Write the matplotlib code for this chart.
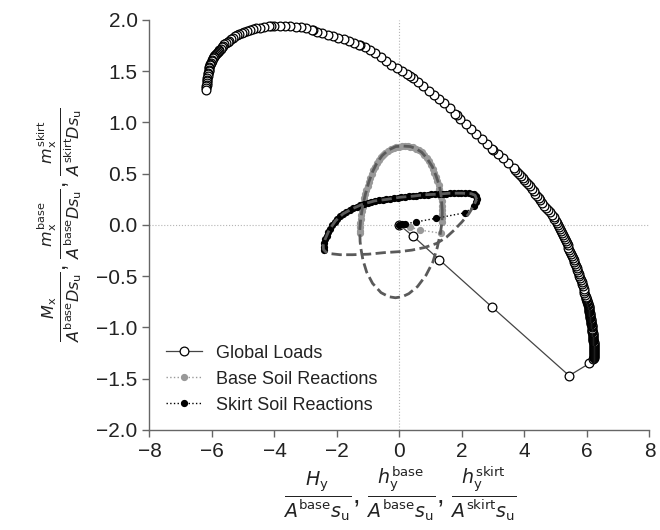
import matplotlib
matplotlib.use("Agg")
import matplotlib.pyplot as plt
from matplotlib.ticker import FuncFormatter

plt.rcParams['font.family'] = ['Liberation Sans', 'DejaVu Sans']
plt.rcParams['mathtext.fontset'] = 'dejavusans'

# === GLOBAL LOADS (normalised H_y, M_x per load step) ===
GLOBAL_RAMP_X = [0.00, 0.44, 1.28, 2.96, 5.43, 6.08]
GLOBAL_RAMP_Y = [0.00, -0.11, -0.34, -0.80, -1.47, -1.35]

GLOBAL_ARC_X = [
    # lower right, slow steps
    6.19, 6.21, 6.21, 6.22, 6.22, 6.23, 6.23, 6.23, 6.23, 6.23, 6.23,
    6.22, 6.22, 6.22, 6.22, 6.21, 6.21, 6.21, 6.20, 6.20, 6.20, 6.19,
    6.19, 6.19, 6.18, 6.18, 6.18, 6.17, 6.17, 6.17, 6.16,
    6.15, 6.15, 6.15, 6.14, 6.14, 6.13, 6.13, 6.12, 6.12, 6.11, 6.11,
    6.10, 6.10, 6.09, 6.09, 6.08, 6.08, 6.07, 6.07, 6.06, 6.06, 6.05,
    6.04, 6.03, 6.02, 6.01, 6.00, 5.99, 5.98, 5.97, 5.96,
    5.94, 5.92, 5.90, 5.89, 5.87, 5.85, 5.83, 5.81, 5.78, 5.76,
    5.74, 5.71, 5.69, 5.67, 5.64, 5.62, 5.60, 5.57, 5.54, 5.52,
    5.49, 5.46, 5.43, 5.40, 5.38, 5.35, 5.32, 5.29, 5.26, 5.23,
    5.20, 5.16, 5.13, 5.10, 5.06, 5.03, 5.00, 4.96, 4.93,
    4.87, 4.81, 4.75, 4.69, 4.63, 4.57, 4.51, 4.45, 4.40, 4.34, 4.29,
    4.23, 4.18, 4.12, 4.06, 4.00, 3.94, 3.88, 3.82, 3.76, 3.71, 3.65,
    # fast middle part
    3.48, 3.31, 3.14, 3.00, 2.97, 2.80, 2.63, 2.46, 2.29, 2.12, 1.95,
    1.83, 1.78, 1.61, 1.44, 1.27, 1.10, 0.93, 0.76, 0.59, 0.42, 0.34,
    0.25, 0.08,
    -0.09, -0.26, -0.43, -0.60, -0.77, -0.94, -1.11, -1.27, -1.28, -1.45,
    -1.62, -1.79, -1.96, -2.13, -2.30, -2.47, -2.64, -2.76, -2.81, -2.98,
    -3.15, -3.32, -3.49,
    # upper left, slowing down again
    -3.66, -3.83, -4.00, -4.10, -4.16, -4.32, -4.46, -4.58, -4.69, -4.79,
    -4.88, -4.97, -5.05, -5.13, -5.20, -5.27, -5.33, -5.39, -5.45, -5.50,
    -5.55, -5.60, -5.64, -5.68, -5.72, -5.76, -5.79, -5.82, -5.85, -5.88,
    -5.91, -5.93, -5.95, -5.97, -5.99, -6.01, -6.03, -6.05, -6.06, -6.08,
    -6.09, -6.10, -6.11, -6.12, -6.13, -6.14, -6.15, -6.16, -6.16, -6.17,
    -6.17, -6.18, -6.18, -6.18]
GLOBAL_ARC_Y = [
    -1.31, -1.30, -1.29, -1.28, -1.27, -1.26, -1.25, -1.24, -1.23, -1.22,
    -1.21, -1.20, -1.19, -1.18, -1.17, -1.16, -1.15, -1.14, -1.13, -1.12,
    -1.11, -1.10, -1.09, -1.08, -1.07, -1.06, -1.05, -1.04, -1.03, -1.02,
    -1.01,
    -1.00, -0.99, -0.98, -0.97, -0.96, -0.95, -0.94, -0.93, -0.92, -0.91,
    -0.90, -0.89, -0.88, -0.87, -0.86, -0.85, -0.84, -0.83, -0.82, -0.81,
    -0.80, -0.79, -0.78, -0.77, -0.76, -0.75, -0.74, -0.73, -0.72, -0.71,
    -0.70,
    -0.68, -0.66, -0.64, -0.62, -0.60, -0.58, -0.56, -0.54, -0.52, -0.50,
    -0.48, -0.46, -0.44, -0.42, -0.40, -0.38, -0.36, -0.34, -0.32, -0.30,
    -0.28, -0.26, -0.24, -0.22, -0.20, -0.18, -0.16, -0.14, -0.12, -0.10,
    -0.08, -0.06, -0.04, -0.02, 0.00, 0.02, 0.04, 0.06, 0.08,
    0.10, 0.125, 0.15, 0.17, 0.19, 0.215, 0.24, 0.26, 0.28, 0.305, 0.33,
    0.355, 0.38, 0.40, 0.42, 0.44, 0.46, 0.48, 0.50, 0.52, 0.54, 0.56,
    0.605, 0.65, 0.695, 0.73, 0.74, 0.79, 0.835, 0.885, 0.935, 0.985,
    1.035, 1.07, 1.085, 1.14, 1.19, 1.23, 1.27, 1.31, 1.355, 1.395, 1.435,
    1.45, 1.47, 1.50,
    1.53, 1.565, 1.60, 1.64, 1.675, 1.705, 1.735, 1.755, 1.757, 1.78,
    1.795, 1.81, 1.825, 1.84, 1.855, 1.87, 1.885, 1.90, 1.905, 1.92,
    1.93, 1.935, 1.94,
    1.945, 1.945, 1.94, 1.94, 1.937, 1.932, 1.926, 1.92, 1.91, 1.90,
    1.893, 1.885, 1.876, 1.866, 1.853, 1.84, 1.826, 1.812, 1.798, 1.788,
    1.776, 1.762, 1.748, 1.735, 1.72, 1.705, 1.695, 1.685, 1.675, 1.665,
    1.655, 1.645, 1.635, 1.625, 1.612, 1.60, 1.585, 1.57, 1.56, 1.54,
    1.53, 1.515, 1.50, 1.485, 1.47, 1.45, 1.435, 1.415, 1.40, 1.385,
    1.37, 1.355, 1.34, 1.32]

# === BASE SOIL REACTIONS ===
BASE_X = [0.00, 0.06, 0.34, 0.66, 1.32,
          1.36, 1.37, 1.37, 1.37, 1.36, 1.35, 1.33, 1.31, 1.28, 1.25, 1.21,
          1.17, 1.12, 1.07, 1.01, 0.94, 0.87, 0.79, 0.71, 0.62, 0.53, 0.44,
          0.35, 0.26,
          0.17, 0.08, -0.01, -0.10, -0.19, -0.28, -0.37, -0.45, -0.53, -0.60,
          -0.67, -0.73, -0.79, -0.84, -0.89, -0.94, -0.98, -1.02, -1.06,
          -1.09, -1.12, -1.15, -1.18, -1.20, -1.22, -1.24, -1.25, -1.26,
          -1.27, -1.27]
BASE_Y = [0.00, -0.005, -0.02, -0.05, -0.08,
          0.03, 0.07, 0.11, 0.15, 0.19, 0.23, 0.27, 0.31, 0.35, 0.39, 0.43,
          0.47, 0.51, 0.55, 0.59, 0.625, 0.655, 0.685, 0.71, 0.73, 0.745,
          0.757, 0.765, 0.77,
          0.77, 0.768, 0.763, 0.757, 0.75, 0.74, 0.725, 0.705, 0.685, 0.66,
          0.63, 0.60, 0.57, 0.54, 0.50, 0.46, 0.42, 0.38, 0.34, 0.30, 0.26,
          0.22, 0.18, 0.14, 0.10, 0.06, 0.02, -0.02, -0.06, -0.08]

# === SKIRT SOIL REACTIONS ===
SKIRT_X = [0.00, 0.08, 0.17, 0.53, 1.17, 2.11,
           2.40, 2.45, 2.47, 2.45, 2.40, 2.32, 2.22, 2.10, 1.98, 1.86, 1.74,
           1.62, 1.50, 1.38, 1.26, 1.14, 1.02, 0.90, 0.78, 0.66, 0.54, 0.42,
           0.30, 0.18, 0.06, -0.06, -0.18, -0.30, -0.42, -0.54, -0.66, -0.78,
           -0.90, -1.02, -1.14, -1.26, -1.37, -1.48, -1.59, -1.70, -1.80,
           -1.90, -1.99, -2.07, -2.15, -2.22, -2.28, -2.33, -2.38, -2.41,
           -2.43, -2.42]
SKIRT_Y = [0.00, 0.005, 0.01, 0.03, 0.065, 0.12,
           0.19, 0.22, 0.25, 0.28, 0.30, 0.305, 0.31, 0.31, 0.31, 0.31, 0.31,
           0.31, 0.305, 0.305, 0.30, 0.30, 0.30, 0.295, 0.295, 0.29, 0.285,
           0.28, 0.28, 0.275, 0.27, 0.265, 0.26, 0.255, 0.25, 0.245, 0.24,
           0.235, 0.225, 0.215, 0.205, 0.195, 0.18, 0.165, 0.15, 0.13, 0.11,
           0.085, 0.06, 0.03, 0.00, -0.035, -0.07, -0.105, -0.14, -0.175,
           -0.21, -0.24]

# === FAILURE ENVELOPES ===
BASE_ENV_X = [1.37, 1.34, 1.28, 1.17, 1.05, 0.88, 0.71, 0.53, 0.35, 0.12,
              -0.12, -0.36, -0.56, -0.73, -0.86, -0.98, -1.09, -1.18, -1.24,
              -1.27, -1.26, -1.24, -1.17, -1.05, -0.86, -0.59, -0.34, -0.13,
              0.09, 0.30, 0.58, 0.85, 1.07, 1.21, 1.31, 1.36, 1.37]
BASE_ENV_Y = [0.13, 0.27, 0.38, 0.48, 0.57, 0.65, 0.71, 0.745, 0.765, 0.77,
              0.765, 0.73, 0.675, 0.60, 0.52, 0.42, 0.30, 0.18, 0.06,
              -0.05, -0.16, -0.22, -0.34, -0.46, -0.57, -0.66, -0.70, -0.71,
              -0.70, -0.67, -0.60, -0.49, -0.36, -0.22, -0.08, 0.03, 0.13]

SKIRT_ENV_X = [2.47, 2.42, 2.30, 2.00, 1.60, 1.20, 0.80, 0.40, 0.00, -0.40,
               -0.80, -1.20, -1.50, -1.80, -2.05, -2.25, -2.38, -2.44, -2.43,
               -2.35, -2.20, -1.90, -1.50, -1.00, -0.50, 0.00, 0.40, 0.80,
               1.19, 1.50, 1.75, 2.00, 2.22, 2.38, 2.47]
SKIRT_ENV_Y = [0.25, 0.29, 0.305, 0.31, 0.31, 0.30, 0.295, 0.28, 0.27, 0.25,
               0.235, 0.20, 0.16, 0.11, 0.04, -0.05, -0.14, -0.20, -0.24,
               -0.265, -0.28, -0.29, -0.29, -0.285, -0.27, -0.26, -0.245,
               -0.22, -0.18, -0.12, -0.05, 0.03, 0.11, 0.19, 0.25]

X_TICKS = [-8, -6, -4, -2, 0, 2, 4, 6, 8]
Y_TICKS = [-2.0, -1.5, -1.0, -0.5, 0.0, 0.5, 1.0, 1.5, 2.0]

X_LABEL = (r'$\frac{H_\mathrm{y}}{A^\mathrm{base}s_\mathrm{u}}$, '
           r'$\frac{h_\mathrm{y}^\mathrm{base}}{A^\mathrm{base}s_\mathrm{u}}$, '
           r'$\frac{h_\mathrm{y}^\mathrm{skirt}}{A^\mathrm{skirt}s_\mathrm{u}}$')
Y_LABEL = (r'$\frac{M_\mathrm{x}}{A^\mathrm{base}Ds_\mathrm{u}}$, '
           r'$\frac{m_\mathrm{x}^\mathrm{base}}{A^\mathrm{base}Ds_\mathrm{u}}$, '
           r'$\frac{m_\mathrm{x}^\mathrm{skirt}}{A^\mathrm{skirt}Ds_\mathrm{u}}$')

# === PLOT ===
fig = plt.figure(figsize=(6.6, 5.3), dpi=100)
ax = fig.add_axes([0.2265, 0.1887, 0.7575, 0.7736])

ax.axhline(0, color='#b5b5b5', lw=0.8, ls=':', zorder=0)
ax.axvline(0, color='#b5b5b5', lw=0.8, ls=':', zorder=0)

ax.plot(GLOBAL_RAMP_X + GLOBAL_ARC_X, GLOBAL_RAMP_Y + GLOBAL_ARC_Y, '-',
        color='#444444', lw=0.9, marker='o', ms=6.3, mfc='white',
        mec='black', mew=0.9, label='Global Loads', zorder=2)
ax.plot(BASE_X, BASE_Y, ':', color='#999999', lw=1.0, marker='o', ms=4.2,
        label='Base Soil Reactions', zorder=3)
ax.plot(SKIRT_X, SKIRT_Y, ':', color='black', lw=1.0, marker='o', ms=4.2,
        label='Skirt Soil Reactions', zorder=4)

ax.plot(BASE_ENV_X, BASE_ENV_Y, '--', color='#5a5a5a', lw=2.0, zorder=5)
ax.plot(SKIRT_ENV_X, SKIRT_ENV_Y, '--', color='#5a5a5a', lw=2.0, zorder=5)

ax.set_xlim(-8, 8)
ax.set_ylim(-2, 2)
ax.set_xticks(X_TICKS)
ax.set_yticks(Y_TICKS)
ax.yaxis.set_major_formatter(
    FuncFormatter(lambda v, pos: f'{v:.1f}'.replace('-', '\u2212')))
ax.tick_params(labelsize=15, length=5, width=1, color='#666666',
               labelcolor='#222222')
for side in ('top', 'right'):
    ax.spines[side].set_visible(False)
for side in ('left', 'bottom'):
    ax.spines[side].set_color('#666666')
    ax.spines[side].set_linewidth(1.0)

ax.set_xlabel(X_LABEL, fontsize=19.5, color='#222222')
ax.set_ylabel(Y_LABEL, fontsize=16.5, color='#222222')
ax.xaxis.set_label_coords(0.5, -0.085)
ax.yaxis.set_label_coords(-0.13, 0.5)

ax.legend(loc='lower left', bbox_to_anchor=(0.0, 0.0), frameon=False,
          fontsize=13, handlelength=2.0, handletextpad=0.8,
          labelspacing=0.5, labelcolor='#222222')

fig.savefig('out.png', dpi=100)
